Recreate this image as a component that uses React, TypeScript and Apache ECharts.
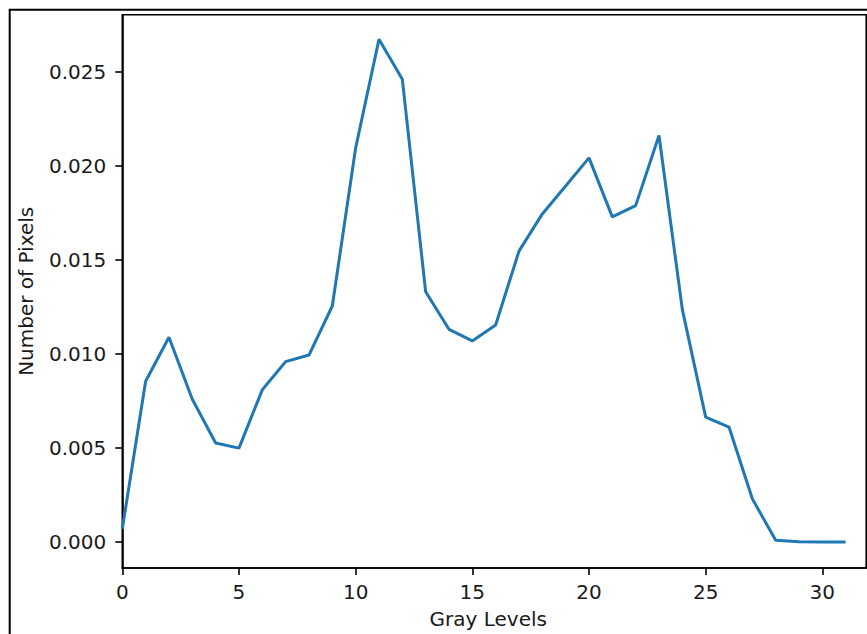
import React, { useEffect, useRef } from "react";
import * as echarts from "echarts";

const grayLevels = Array.from({ length: 32 }, (_, i) => i);
const pixelFractions = [
  0.0007, 0.00856, 0.0109, 0.0076, 0.00527, 0.005, 0.0081, 0.0096,
  0.00995, 0.01256, 0.02097, 0.02675, 0.02463, 0.01332, 0.01132, 0.0107,
  0.01155, 0.01548, 0.01746, 0.01895, 0.02044, 0.0173, 0.0179, 0.02163,
  0.01238, 0.00665, 0.00612, 0.0023, 0.0001, 0.00002, 0.0, 0.0,
];
const xTicks = [0, 5, 10, 15, 20, 25, 30];
const yTicks = [0, 0.005, 0.01, 0.015, 0.02, 0.025];

const FONT = "DejaVu Sans";
const TXT = "#1a1a1a";

export default function App() {
  const ref = useRef<HTMLDivElement>(null);
  useEffect(() => {
    if (!ref.current) return;
    const chart = echarts.init(ref.current, null, { renderer: "svg" });
    chart.setOption({
      animation: false,
      backgroundColor: "#ffffff",
      grid: {
        left: 122.3,
        top: 14.7,
        right: 0.8,
        bottom: 64.7,
        show: true,
        borderColor: "#000",
        borderWidth: 1.6,
        backgroundColor: "transparent",
      },
      xAxis: {
        type: "value",
        min: 0,
        max: 31.88,
        name: "Gray Levels",
        nameLocation: "middle",
        nameGap: 41,
        nameTextStyle: { fontFamily: FONT, fontSize: 20, color: TXT, padding: [0, 12, 0, 0] },
        axisLine: { show: true, onZero: false, lineStyle: { color: "#000", width: 1.6 } },
        axisTick: { show: true, length: 7, lineStyle: { color: "#000", width: 1.6 }, customValues: xTicks },
        axisLabel: { fontFamily: FONT, fontSize: 20, color: TXT, margin: 14, customValues: xTicks },
        splitLine: { show: false },
      },
      yAxis: {
        type: "value",
        min: -0.00138,
        max: 0.02806,
        name: "Number of Pixels",
        nameLocation: "middle",
        nameGap: 86,
        nameRotate: 90,
        nameTextStyle: { fontFamily: FONT, fontSize: 20, color: TXT },
        axisLine: { show: true, onZero: false, lineStyle: { color: "#000", width: 1.6 } },
        axisTick: { show: true, length: 7, lineStyle: { color: "#000", width: 1.6 }, customValues: yTicks },
        axisLabel: {
          fontFamily: FONT,
          fontSize: 20,
          color: TXT,
          margin: 16,
          customValues: yTicks,
          formatter: (v: number) => v.toFixed(3),
        },
        splitLine: { show: false },
      },
      graphic: [
        {
          type: "rect",
          silent: true,
          z: 100,
          shape: { x: 9.7, y: 9.7, width: 1200, height: 1200 },
          style: { fill: "none", stroke: "#000", lineWidth: 2 },
        },
      ],
      series: [
        {
          type: "line",
          data: grayLevels.map((g, i) => [g, pixelFractions[i]]),
          showSymbol: false,
          lineStyle: { color: "#1f77b4", width: 3 },
          itemStyle: { color: "#1f77b4" },
        },
      ],
    });
    return () => chart.dispose();
  }, []);
  return (
    <div
      ref={ref}
      style={{ position: "absolute", left: 0, top: 0, width: 867, height: 634 }}
    />
  );
}
